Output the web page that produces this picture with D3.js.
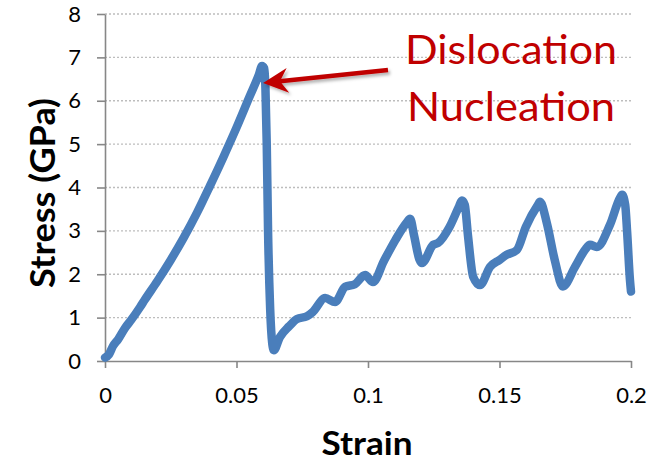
<!DOCTYPE html>
<html>
<head>
<meta charset="utf-8">
<script src="https://cdn.jsdelivr.net/npm/d3@7"></script>
<style>
  body { margin: 0; background: #ffffff; }
  svg { display: block; }
</style>
</head>
<body>
<div id="chart"></div>
<script>
// Data
const strain = [
  0.000, 0.0015, 0.003, 0.005, 0.0076, 0.010, 0.0133, 0.015, 0.020, 0.025,
  0.030, 0.035, 0.040, 0.045, 0.050, 0.055, 0.0585,
  0.0597, 0.0605, 0.0610, 0.0615, 0.0620, 0.0628, 0.0636, 0.0642, 0.0665, 0.070,
  0.073, 0.0768, 0.079, 0.0837, 0.0875, 0.0913, 0.095, 0.0989, 0.1019, 0.106,
  0.1105, 0.1148, 0.116, 0.1175, 0.1195, 0.1205, 0.1248, 0.1266, 0.131, 0.1345,
  0.1357, 0.1368, 0.138, 0.140, 0.1426, 0.1464, 0.150, 0.1528, 0.1566, 0.160,
  0.1646, 0.1654, 0.168, 0.171, 0.1741, 0.1787, 0.1825, 0.1844, 0.187, 0.192,
  0.1958, 0.1966, 0.1978, 0.1985, 0.1996, 0.2
];
const stress = [
  0.08, 0.15, 0.34, 0.50, 0.76, 0.95, 1.24, 1.40, 1.85, 2.33,
  2.85, 3.42, 4.05, 4.70, 5.38, 6.10, 6.60,
  6.80, 6.75, 6.30, 5.00, 3.00, 1.20, 0.40, 0.25, 0.55, 0.80,
  0.97, 1.03, 1.13, 1.45, 1.36, 1.71, 1.77, 1.98, 1.82, 2.30,
  2.80, 3.20, 3.28, 2.90, 2.35, 2.26, 2.68, 2.72, 3.09, 3.55,
  3.70, 3.60, 2.90, 1.94, 1.75, 2.17, 2.33, 2.45, 2.56, 3.09,
  3.60, 3.67, 3.18, 2.33, 1.72, 2.17, 2.56, 2.68, 2.63, 3.14,
  3.76, 3.83, 3.60, 3.00, 1.87, 1.60
];
const xTicks = [0, 0.05, 0.1, 0.15, 0.2];
const xTickLabels = ["0", "0.05", "0.1", "0.15", "0.2"];
const yTicks = [0, 1, 2, 3, 4, 5, 6, 7, 8];
const yTickLabels = ["0", "1", "2", "3", "4", "5", "6", "7", "8"];

// annotation: arrow from tail to tip, in data units
const arrowTail = [0.1076, 6.71];
const arrowTip = [0.0601, 6.41];
const noteLines = ["Dislocation", "Nucleation"];
const noteAt = [0.1544, 6.85]; // center of first line, baseline

const dataset = strain.map((s, i) => ({ strain: s, stress: stress[i] }));

// Dimensions
let dimensions = {
  width: 660,
  height: 461,
  margins: { top: 14, right: 29, bottom: 100, left: 105 },
};
dimensions.ctrWidth = dimensions.width - dimensions.margins.left - dimensions.margins.right;
dimensions.ctrHeight = dimensions.height - dimensions.margins.top - dimensions.margins.bottom;

const svg = d3
  .select("#chart")
  .append("svg")
  .attr("width", dimensions.width)
  .attr("height", dimensions.height);

const ctr = svg
  .append("g")
  .attr("transform", `translate(${dimensions.margins.left}, ${dimensions.margins.top})`);

// Scales
const xScale = d3.scaleLinear().domain([0, 0.2]).range([0, dimensions.ctrWidth]);
const yScale = d3.scaleLinear().domain([0, 8]).range([dimensions.ctrHeight, 0]);

// grid lines
ctr
  .append("g")
  .selectAll("line")
  .data(yTicks.filter((d) => d > 0))
  .join("line")
  .attr("x1", 0)
  .attr("x2", dimensions.ctrWidth)
  .attr("y1", (d) => yScale(d))
  .attr("y2", (d) => yScale(d))
  .attr("stroke", "#BDBDBD")
  .attr("stroke-width", 1.4)
  .attr("stroke-dasharray", "2,2");

// Axes
const axisColor = "#878787";
const xAxis = d3
  .axisBottom(xScale)
  .tickValues(xTicks)
  .tickFormat((d, i) => xTickLabels[i])
  .tickSize(7)
  .tickSizeOuter(0)
  .tickPadding(19);

const gX = ctr
  .append("g")
  .attr("transform", `translate(0, ${dimensions.ctrHeight})`)
  .call(xAxis);

const yAxis = d3
  .axisLeft(yScale)
  .tickValues(yTicks)
  .tickFormat((d, i) => yTickLabels[i])
  .tickSize(8)
  .tickSizeOuter(0)
  .tickPadding(16);

const gY = ctr.append("g").call(yAxis);

[gX, gY].forEach((g) => {
  g.select(".domain").attr("stroke", axisColor).attr("stroke-width", 1.6);
  g.selectAll(".tick line").attr("stroke", axisColor).attr("stroke-width", 1.6);
  g.selectAll(".tick text")
    .style("font-family", "Lato, 'Open Sans', sans-serif")
    .style("font-size", "22px")
    .style("fill", "#000000");
});

// Stress-strain line
const lineGenerator = d3
  .line()
  .x((d) => xScale(d.strain))
  .y((d) => yScale(d.stress))
  .curve(d3.curveMonotoneX);

ctr
  .append("path")
  .datum(dataset)
  .attr("d", lineGenerator)
  .attr("fill", "none")
  .attr("stroke", "#4A7EBB")
  .attr("stroke-width", 8.5)
  .attr("stroke-linejoin", "round")
  .attr("stroke-linecap", "round");

// Arrow with a soft shadow
const defs = svg.append("defs");
defs
  .append("filter")
  .attr("id", "shadow")
  .attr("x", "-20%")
  .attr("y", "-50%")
  .attr("width", "140%")
  .attr("height", "200%")
  .append("feDropShadow")
  .attr("dx", 2)
  .attr("dy", 2.5)
  .attr("stdDeviation", 1.6)
  .attr("flood-color", "#000000")
  .attr("flood-opacity", 0.3);

const tx = xScale(arrowTail[0]), ty = yScale(arrowTail[1]);
const px = xScale(arrowTip[0]), py = yScale(arrowTip[1]);
const len = Math.hypot(tx - px, ty - py);
const ux = (tx - px) / len, uy = (ty - py) / len; // tip -> tail
const nx = -uy, ny = ux;
const headLen = 25, headHalf = 12.5, notch = 17;

const arrow = ctr.append("g").attr("filter", "url(#shadow)");
arrow
  .append("line")
  .attr("x1", tx)
  .attr("y1", ty)
  .attr("x2", px + ux * notch)
  .attr("y2", py + uy * notch)
  .attr("stroke", "#C00000")
  .attr("stroke-width", 4.5);

arrow
  .append("path")
  .attr(
    "d",
    d3.line()([
      [px, py],
      [px + ux * headLen + nx * headHalf, py + uy * headLen + ny * headHalf],
      [px + ux * notch, py + uy * notch],
      [px + ux * headLen - nx * headHalf, py + uy * headLen - ny * headHalf],
    ]) + "Z"
  )
  .attr("fill", "#C00000");

// Annotation text
ctr
  .append("g")
  .selectAll("text")
  .data(noteLines)
  .join("text")
  .attr("x", xScale(noteAt[0]))
  .attr("y", (d, i) => yScale(noteAt[1]) + i * 57)
  .attr("text-anchor", "middle")
  .attr("textLength", (d, i) => (i === 0 ? 212 : 208))
  .attr("lengthAdjust", "spacingAndGlyphs")
  .style("font-family", "Lato, 'Open Sans', sans-serif")
  .style("font-size", "40px")
  .style("fill", "#C00000")
  .text((d) => d);

// Axis titles
svg
  .append("text")
  .attr("x", 367)
  .attr("y", 455)
  .attr("text-anchor", "middle")
  .attr("textLength", 91)
  .attr("lengthAdjust", "spacingAndGlyphs")
  .style("font-family", "Lato, 'Open Sans', sans-serif")
  .style("font-weight", "bold")
  .style("font-size", "33px")
  .style("fill", "#000000")
  .text("Strain");

svg
  .append("text")
  .attr("transform", "translate(55, 193) rotate(-90)")
  .attr("text-anchor", "middle")
  .attr("textLength", 190)
  .attr("lengthAdjust", "spacingAndGlyphs")
  .style("font-family", "Lato, 'Open Sans', sans-serif")
  .style("font-weight", "bold")
  .style("font-size", "34px")
  .style("fill", "#000000")
  .text("Stress (GPa)");
</script>
</body>
</html>
